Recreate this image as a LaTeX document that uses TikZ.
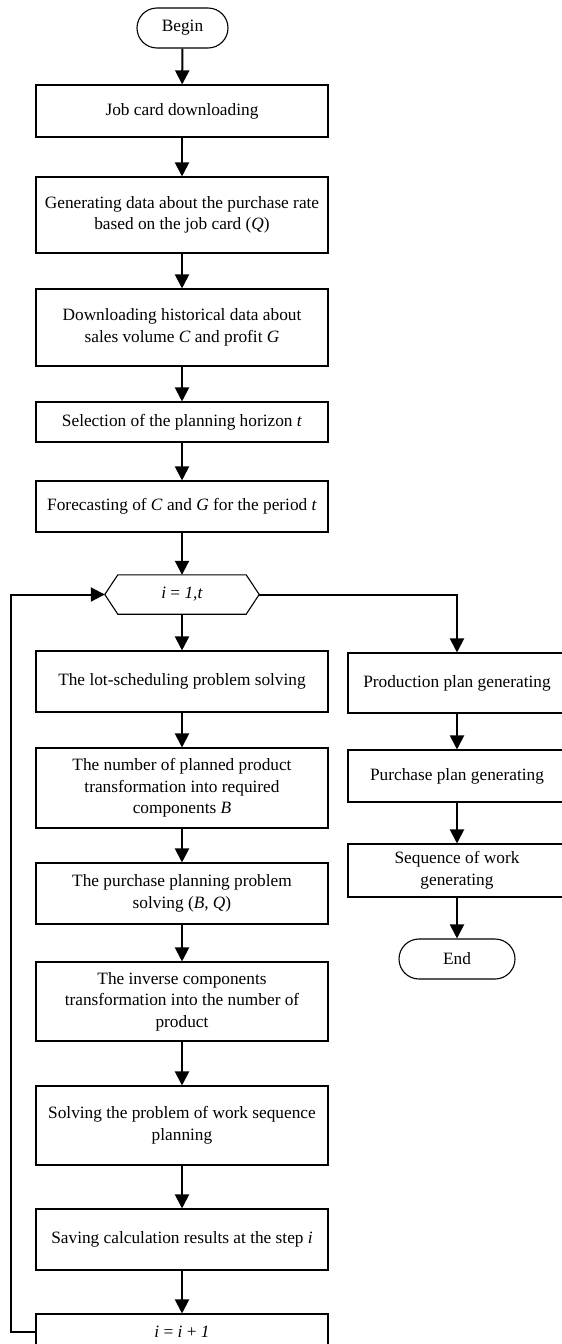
\documentclass[tikz,border=0pt]{standalone}
\usepackage{fontspec}
\setmainfont{Liberation Serif}
\usetikzlibrary{arrows.meta,calc}
\begin{document}
\begin{tikzpicture}[x=1pt,y=-1pt,
  txt/.style={font=\fontsize{17.3}{21.5}\selectfont, align=center, inner sep=0pt},
  box/.style={txt, draw, line width=1.1pt, minimum width=292pt},
  rbox/.style={box, minimum width=218pt},
  term/.style={txt, draw, line width=1.1pt, rounded corners=20pt, minimum height=40pt},
  arr/.style={line width=2pt, -{Triangle[length=14pt,width=14pt]}}]
\useasboundingbox (0,0) rectangle (562,1344);
\clip (0,0) rectangle (562,1344);

\node[term, minimum width=91pt] (begin) at (182.5,28) {Begin};
\node[box, minimum height=52pt] (job) at (182,111) {Job card downloading};
\node[box, minimum height=76pt] (gen) at (182,215) {Generating data about the purchase rate\\based on the job card (\textit{Q})};
\node[box, minimum height=77pt] (down) at (182,327.5) {Downloading historical data about\\sales volume \textit{C} and profit \textit{G}};
\node[box, minimum height=40pt] (sel) at (182,422) {Selection of the planning horizon \textit{t}};
\node[box, minimum height=51pt] (fore) at (182,506.5) {Forecasting of \textit{C} and \textit{G} for the period \textit{t}};
\node[txt, minimum width=154pt, minimum height=39pt] (hex) at (182,594.5) {\textit{i} = \textit{1,t}};
\draw[line width=1.1pt] (hex.west) -- ($(hex.north west)+(13,0)$) -- ($(hex.north east)+(-13,0)$) -- (hex.east) -- ($(hex.south east)+(-13,0)$) -- ($(hex.south west)+(13,0)$) -- cycle;
\node[box, minimum height=61pt] (lot) at (182,681.5) {The lot-scheduling problem solving};
\node[box, minimum height=80pt] (num) at (182,788) {The number of planned product\\transformation into required\\components \textit{B}};
\node[box, minimum height=61pt] (pur) at (182,893.5) {The purchase planning problem\\solving (\textit{B}, \textit{Q})};
\node[box, minimum height=79pt] (inv) at (182,1001.5) {The inverse components\\transformation into the number of\\product};
\node[box, minimum height=79pt] (solv) at (182,1125.5) {Solving the problem of work sequence\\planning};
\node[box, minimum height=61pt] (save) at (182,1239.5) {Saving calculation results at the step \textit{i}};
\node[box, minimum height=36pt] (inc) at (182,1332) {\textit{i} = \textit{i} + \textit{1}};

\node[rbox, minimum height=60pt] (prod) at (457,683) {Production plan generating};
\node[rbox, minimum height=52pt] (pplan) at (457,776) {Purchase plan generating};
\node[rbox, minimum height=53pt] (seq) at (457,870.5) {Sequence of work\\generating};
\node[term, minimum width=116pt] (end) at (457,959) {End};

\draw[arr] (begin) -- (job);
\draw[arr] (job) -- (gen);
\draw[arr] (gen) -- (down);
\draw[arr] (down) -- (sel);
\draw[arr] (sel) -- (fore);
\draw[arr] (fore) -- (hex);
\draw[arr] (hex) -- (lot);
\draw[arr] (lot) -- (num);
\draw[arr] (num) -- (pur);
\draw[arr] (pur) -- (inv);
\draw[arr] (inv) -- (solv);
\draw[arr] (solv) -- (save);
\draw[arr] (save) -- (inc);
\draw[arr] (inc.west) -- ++(-24,0) |- (hex.west);
\draw[arr] (hex.east) -| (prod.north);
\draw[arr] (prod) -- (pplan);
\draw[arr] (pplan) -- (seq);
\draw[arr] (seq) -- (end);
\end{tikzpicture}
\end{document}
